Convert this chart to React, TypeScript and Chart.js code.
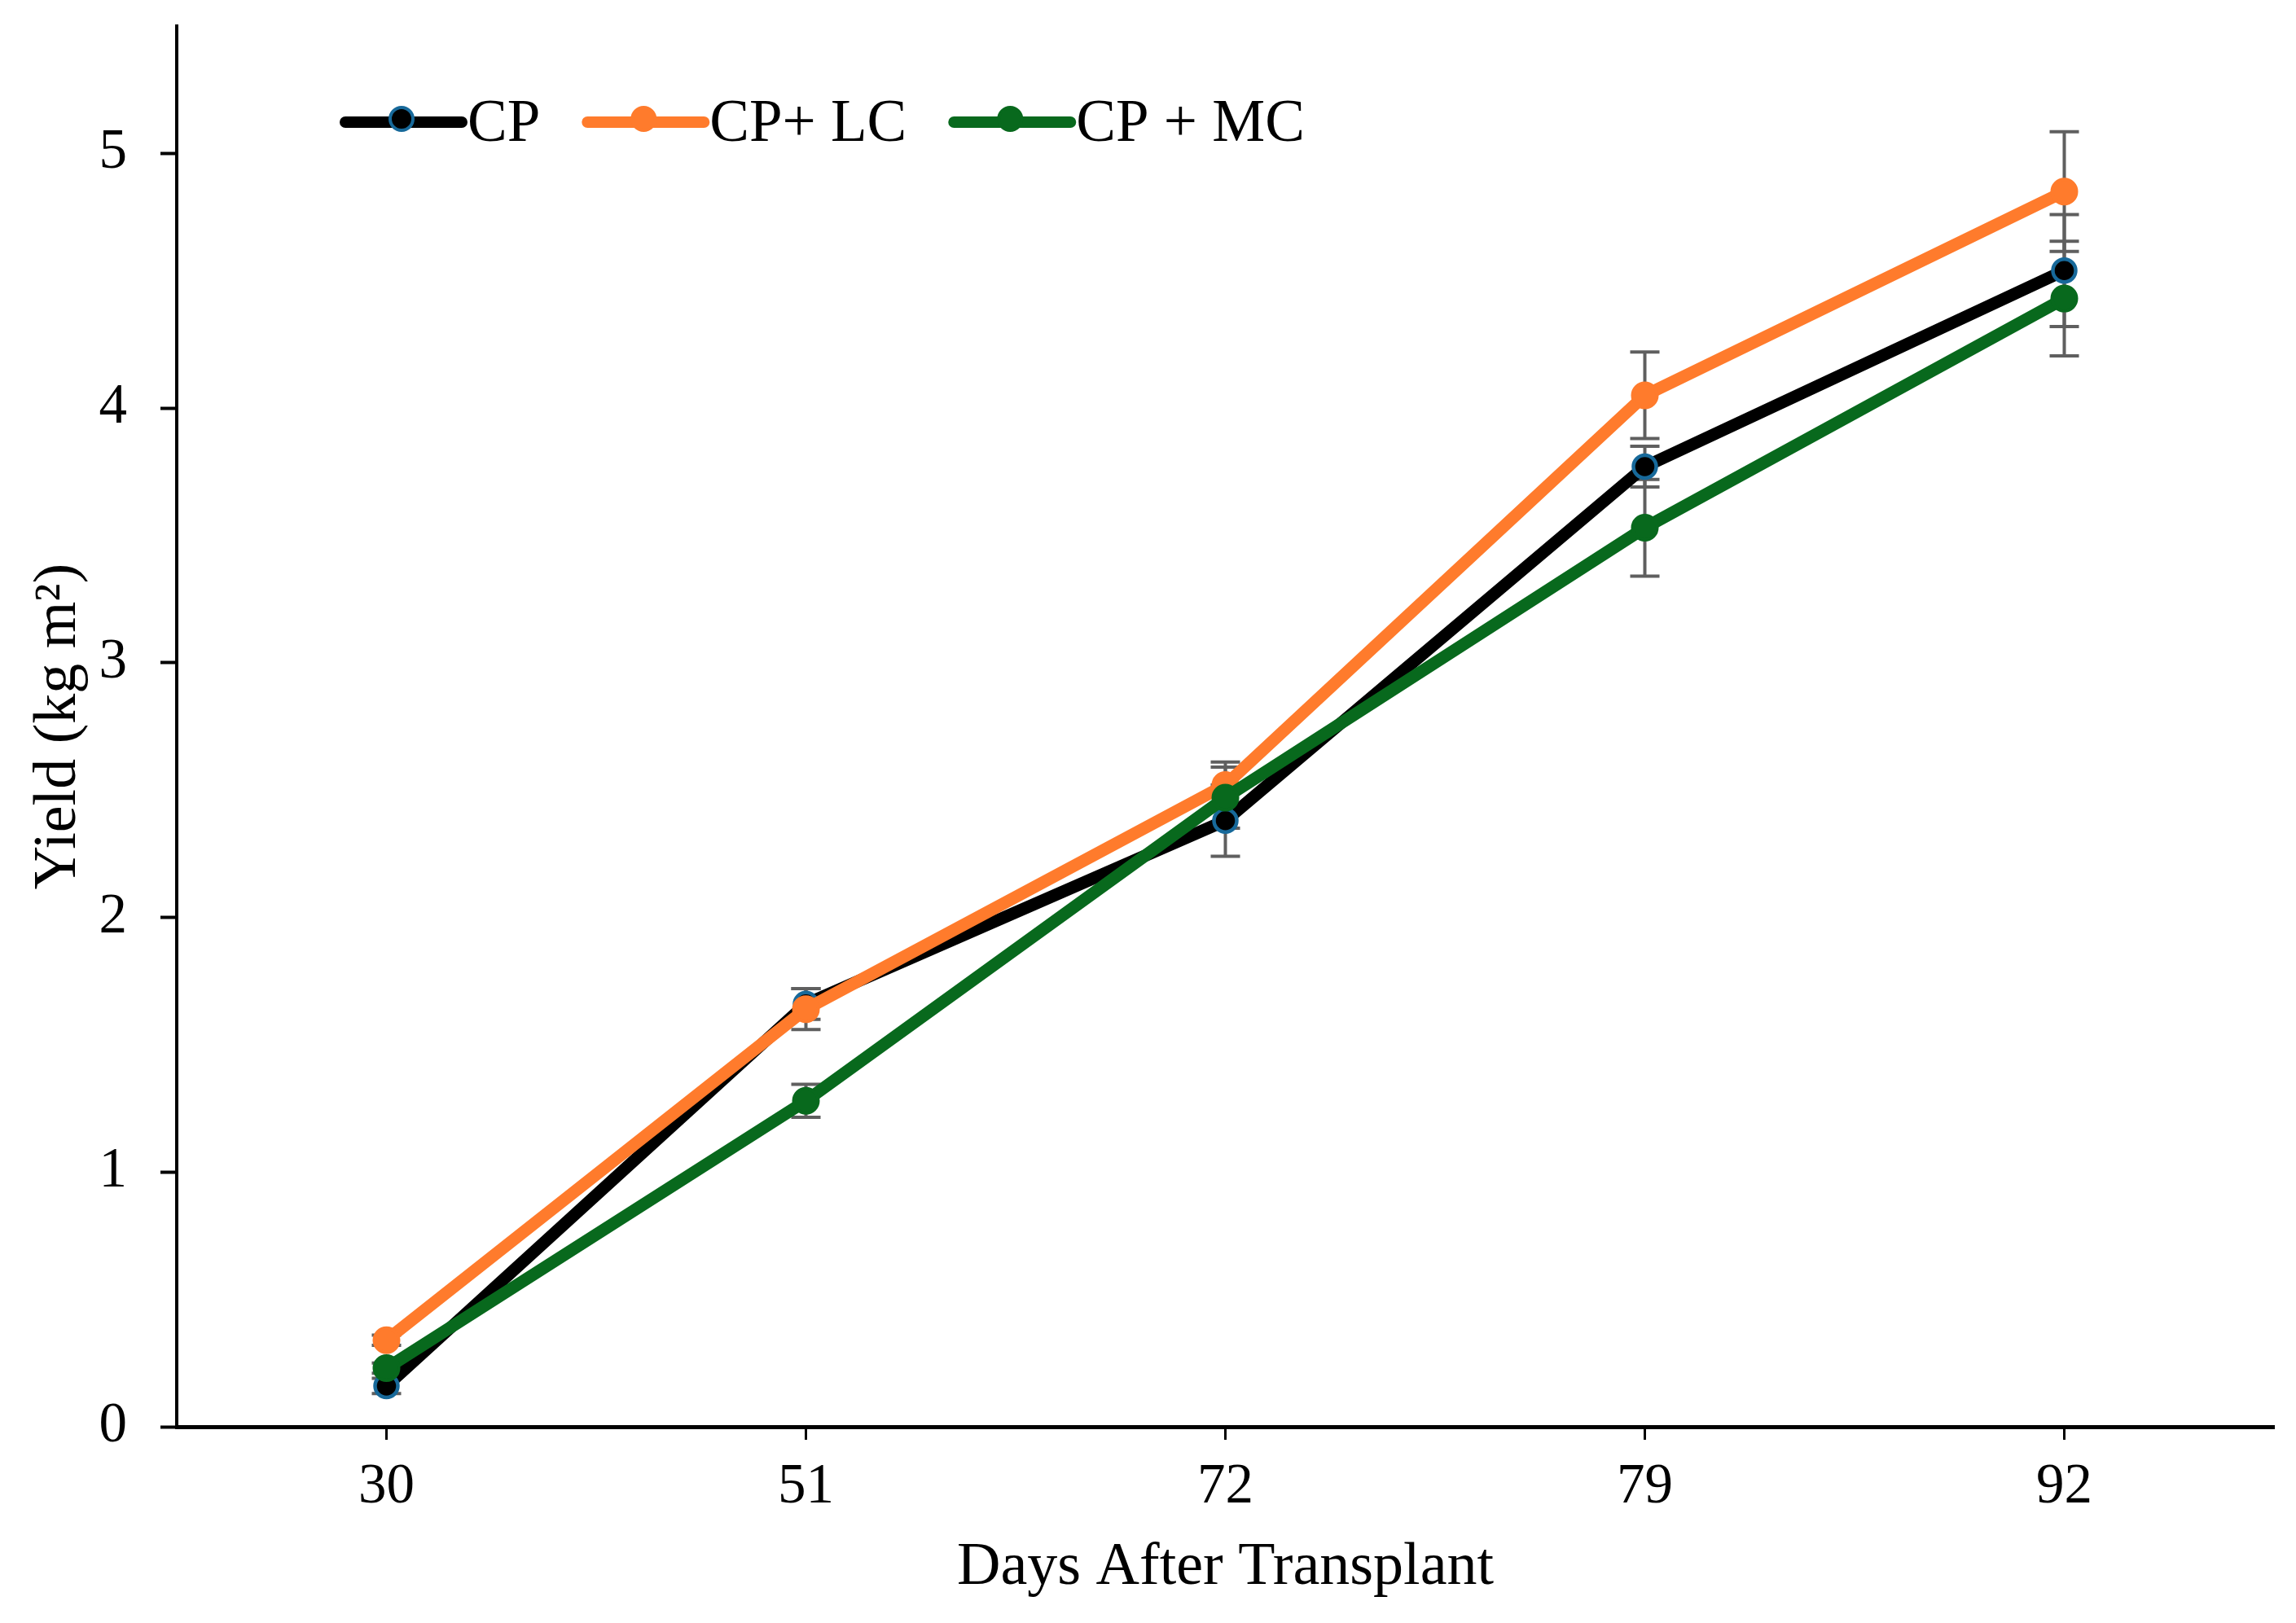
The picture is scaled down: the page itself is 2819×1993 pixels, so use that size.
import { useEffect, useRef } from "react";
import { Chart, registerables } from "chart.js";

Chart.register(...registerables);

// (kg m-2, mean and error bar half-length)
const days = ["30", "51", "72", "79", "92"];
const seriesNames = ["CP", "CP+ LC", "CP + MC"];
const cpYield = [0.16, 1.66, 2.38, 3.77, 4.54];
const lcYield = [0.34, 1.64, 2.52, 4.05, 4.85];
const mcYield = [0.23, 1.28, 2.47, 3.53, 4.43];
const cpErr = [0.03, 0.06, 0.14, 0.08, 0.22];
const lcErr = [0.02, 0.08, 0.09, 0.17, 0.235];
const mcErr = [0.02, 0.065, 0.12, 0.19, 0.225];
const yTicks = [0, 1, 2, 3, 4, 5];

const FONT = "'Liberation Serif', 'Times New Roman', serif";

const errorBars = {
  id: "errorBars",
  beforeDatasetsDraw(chart: any) {
    const { ctx } = chart;
    const yScale = chart.scales.y;
    ctx.save();
    ctx.strokeStyle = "#5f5f5f";
    ctx.lineWidth = 4;
    chart.data.datasets.forEach((ds: any, i: number) => {
      const meta = chart.getDatasetMeta(i);
      meta.data.forEach((pt: any, j: number) => {
        const v = ds.data[j];
        const e = ds.errors[j];
        const top = yScale.getPixelForValue(v + e);
        const bot = yScale.getPixelForValue(v - e);
        const x = pt.x;
        ctx.beginPath();
        ctx.moveTo(x, top);
        ctx.lineTo(x, bot);
        ctx.moveTo(x - 18, top);
        ctx.lineTo(x + 18, top);
        ctx.moveTo(x - 18, bot);
        ctx.lineTo(x + 18, bot);
        ctx.stroke();
      });
    });
    ctx.restore();
  },
};

const lineLegend = {
  id: "lineLegend",
  afterDraw(chart: any) {
    const { ctx, chartArea } = chart;
    let x = chartArea.left + 207;
    const y = 150;
    ctx.save();
    ctx.font = `73px ${FONT}`;
    ctx.textBaseline = "alphabetic";
    ctx.textAlign = "left";
    chart.data.datasets.forEach((ds: any) => {
      ctx.strokeStyle = ds.borderColor;
      ctx.lineWidth = 14;
      ctx.lineCap = "round";
      ctx.beginPath();
      ctx.moveTo(x, y);
      ctx.lineTo(x + 143, y);
      ctx.stroke();
      ctx.beginPath();
      ctx.arc(x + 69, y - 4, 14, 0, Math.PI * 2);
      ctx.fillStyle = ds.pointBackgroundColor;
      ctx.fill();
      ctx.lineWidth = 4;
      ctx.strokeStyle = ds.pointBorderColor;
      ctx.stroke();
      ctx.fillStyle = "#000";
      ctx.fillText(ds.label, x + 150, y + 23);
      x += 150 + ctx.measureText(ds.label).width + 58;
    });
    ctx.restore();
  },
};

const YieldChart = () => {
  const chartRef = useRef<HTMLCanvasElement>(null);

  useEffect(() => {
    if (!chartRef.current) return;

    const chart = new Chart(chartRef.current, {
      type: "line",
      data: {
        labels: days,
        datasets: [
          {
            label: seriesNames[0],
            data: cpYield,
            errors: cpErr,
            borderColor: "#000000",
            pointBackgroundColor: "#000000",
            pointBorderColor: "#17699a",
            pointBorderWidth: 4.5,
            pointRadius: 14,
            borderWidth: 15,
            order: 3,
          },
          {
            label: seriesNames[1],
            data: lcYield,
            errors: lcErr,
            borderColor: "#ff7b2c",
            pointBackgroundColor: "#ff7b2c",
            pointBorderColor: "#ff7b2c",
            pointBorderWidth: 4,
            pointRadius: 15,
            borderWidth: 15,
            order: 2,
          },
          {
            label: seriesNames[2],
            data: mcYield,
            errors: mcErr,
            borderColor: "#08691d",
            pointBackgroundColor: "#08691d",
            pointBorderColor: "#08691d",
            pointBorderWidth: 4,
            pointRadius: 15,
            borderWidth: 15,
            order: 1,
          },
        ] as any,
      },
      options: {
        animation: false,
        responsive: true,
        maintainAspectRatio: false,
        events: [],
        layout: { padding: { top: 32, right: 27, left: 0, bottom: 0 } },
        plugins: {
          legend: { display: false },
          tooltip: { enabled: false },
        },
        scales: {
          x: {
            type: "category",
            offset: true,
            afterFit: (s: any) => {
              s.height = 241;
              s.paddingLeft = 0;
              s.paddingRight = 0;
            },
            grid: {
              display: true,
              drawOnChartArea: false,
              drawTicks: true,
              tickLength: 16,
              tickWidth: 3,
              tickColor: "#000",
            },
            border: { display: true, color: "#000", width: 5 },
            ticks: {
              color: "#000",
              padding: 17,
              font: { family: FONT, size: 69 },
            },
            title: {
              display: true,
              text: "Days After Transplant",
              color: "#000",
              font: { family: FONT, size: 74 },
              padding: { top: 0, bottom: 23 },
            },
          },
          y: {
            type: "linear",
            min: 0,
            max: 5.5,
            afterFit: (s: any) => {
              s.width = 217;
              s.paddingTop = 0;
              s.paddingBottom = 0;
            },
            afterBuildTicks: (s: any) => {
              s.ticks = yTicks.map((v) => ({ value: v }));
            },
            grid: {
              display: true,
              drawOnChartArea: false,
              drawTicks: true,
              tickLength: 20,
              tickWidth: 4,
              tickColor: "#000",
            },
            border: { display: true, color: "#000", width: 4 },
            ticks: {
              color: "#000",
              padding: 41,
              font: { family: FONT, size: 69 },
            },
            title: {
              display: true,
              text: "Yield (kg m²)",
              color: "#000",
              font: { family: FONT, size: 74 },
              padding: { top: 28, bottom: 0 },
            },
          },
        },
      },
      plugins: [errorBars, lineLegend],
    });

    return () => {
      chart.destroy();
    };
  }, []);

  return (
    <div
      style={{
        position: "absolute",
        left: 0,
        top: 0,
        width: "2819px",
        height: "1993px",
        background: "#fff",
      }}
    >
      <canvas ref={chartRef} />
    </div>
  );
};

export default function App() {
  return <YieldChart />;
}
